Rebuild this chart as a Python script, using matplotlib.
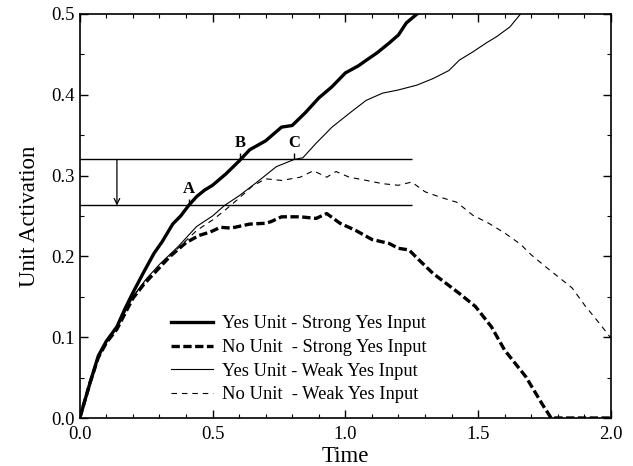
import matplotlib.pyplot as plt
from matplotlib.ticker import MultipleLocator

plt.rcParams['font.family'] = ['Liberation Serif', 'DejaVu Serif']
plt.rcParams['lines.scale_dashes'] = False

# Yes unit, strong yes input
T_YES_STRONG = [0.0, 0.04, 0.07, 0.1, 0.14, 0.17, 0.2, 0.24, 0.28, 0.31, 0.35, 0.38, 0.41, 0.44,
                0.47, 0.5, 0.55, 0.6, 0.64, 0.7, 0.76, 0.8, 0.85, 0.9, 0.95, 1.0, 1.05, 1.08,
                1.12, 1.165, 1.2, 1.23, 1.27]
A_YES_STRONG = [0.0, 0.045, 0.077, 0.095, 0.113, 0.135, 0.155, 0.18, 0.204, 0.218, 0.24, 0.25, 0.263, 0.274,
                0.282, 0.288, 0.302, 0.318, 0.332, 0.343, 0.36, 0.362, 0.378, 0.396, 0.41, 0.427, 0.436, 0.443,
                0.452, 0.464, 0.474, 0.489, 0.5]

# No unit, strong yes input
T_NO_STRONG = [0.0, 0.04, 0.07, 0.1, 0.14, 0.2, 0.24, 0.3, 0.34, 0.4, 0.45, 0.49, 0.53, 0.57,
               0.64, 0.7, 0.72, 0.76, 0.83, 0.89, 0.93, 0.98, 1.04, 1.1, 1.165, 1.2, 1.24,
               1.27, 1.33, 1.43, 1.49, 1.55, 1.6, 1.68, 1.74, 1.775, 2.0]
A_NO_STRONG = [0.0, 0.045, 0.075, 0.093, 0.11, 0.148, 0.165, 0.186, 0.2, 0.217, 0.226, 0.23, 0.236, 0.235,
               0.24, 0.241, 0.243, 0.249, 0.249, 0.247, 0.253, 0.241, 0.232, 0.221, 0.216, 0.21, 0.208,
               0.198, 0.179, 0.154, 0.138, 0.113, 0.084, 0.051, 0.018, 0.0, 0.0]

# Yes unit, weak yes input
T_YES_WEAK = [0.0, 0.04, 0.07, 0.1, 0.14, 0.2, 0.25, 0.3, 0.37, 0.44, 0.5, 0.545, 0.6, 0.664,
              0.74, 0.808, 0.84, 0.89, 0.95, 1.015, 1.078, 1.14, 1.2, 1.27, 1.33, 1.39, 1.43,
              1.48, 1.53, 1.57, 1.62, 1.66]
A_YES_WEAK = [0.0, 0.045, 0.075, 0.094, 0.112, 0.15, 0.172, 0.19, 0.212, 0.237, 0.25, 0.263, 0.275, 0.291,
              0.311, 0.32, 0.322, 0.34, 0.36, 0.377, 0.393, 0.402, 0.406, 0.412, 0.42, 0.43, 0.443,
              0.453, 0.464, 0.472, 0.484, 0.5]

# No unit, weak yes input
T_NO_WEAK = [0.0, 0.04, 0.07, 0.1, 0.14, 0.2, 0.25, 0.3, 0.37, 0.44, 0.5, 0.55, 0.6, 0.65, 0.7,
             0.76, 0.83, 0.88, 0.93, 0.965, 1.015, 1.08, 1.14, 1.2, 1.25, 1.3, 1.36, 1.42, 1.48,
             1.54, 1.6, 1.66, 1.7, 1.755, 1.816, 1.854, 1.905, 1.955, 2.0]
A_NO_WEAK = [0.0, 0.045, 0.075, 0.094, 0.112, 0.15, 0.17, 0.188, 0.21, 0.232, 0.245, 0.258, 0.272, 0.287, 0.296,
             0.294, 0.298, 0.306, 0.298, 0.305, 0.298, 0.294, 0.29, 0.288, 0.292, 0.28, 0.273, 0.267, 0.251,
             0.241, 0.229, 0.215, 0.202, 0.187, 0.171, 0.161, 0.138, 0.118, 0.099]

# threshold levels and crossing points
UPPER_LEVEL = 0.32
LOWER_LEVEL = 0.263
LEVEL_END = 1.25
ARROW_T = 0.14
MARK_NAMES = ['A', 'B', 'C']
MARK_T = [0.41, 0.605, 0.808]
MARK_LEVEL = [LOWER_LEVEL, UPPER_LEVEL, UPPER_LEVEL]

fig = plt.figure(figsize=(6.33, 4.66), dpi=100)
ax = fig.add_axes([0.126, 0.103, 0.839, 0.867])

ax.plot(T_YES_STRONG, A_YES_STRONG, color='black', lw=2.4, label='Yes Unit - Strong Yes Input')
ax.plot(T_NO_STRONG, A_NO_STRONG, color='black', lw=2.4, dashes=(6, 2.5), label='No Unit  - Strong Yes Input')
ax.plot(T_YES_WEAK, A_YES_WEAK, color='black', lw=0.8, label='Yes Unit - Weak Yes Input')
ax.plot(T_NO_WEAK, A_NO_WEAK, color='black', lw=0.8, dashes=(4, 3.5), label='No Unit  - Weak Yes Input')

ax.hlines([UPPER_LEVEL, LOWER_LEVEL], 0, LEVEL_END, color='black', lw=1)
ax.annotate('', xy=(ARROW_T, LOWER_LEVEL), xytext=(ARROW_T, UPPER_LEVEL),
            arrowprops=dict(arrowstyle='->', color='black', lw=0.9, shrinkA=0, shrinkB=0))

for name, t, lvl in zip(MARK_NAMES, MARK_T, MARK_LEVEL):
    ax.vlines(t, lvl, lvl + 0.008, color='black', lw=1)
    ax.text(t, lvl + 0.01, name, ha='center', va='bottom', fontsize=12, fontweight='bold')

ax.set_xlim(0, 2.0)
ax.set_ylim(0, 0.5)
ax.xaxis.set_major_locator(MultipleLocator(0.5))
ax.xaxis.set_minor_locator(MultipleLocator(0.1))
ax.yaxis.set_major_locator(MultipleLocator(0.1))
ax.yaxis.set_minor_locator(MultipleLocator(0.05))
ax.xaxis.set_major_formatter(lambda v, p: f'{v:.1f}')
ax.yaxis.set_major_formatter(lambda v, p: f'{v:.1f}')
ax.tick_params(which='both', direction='in', top=True, right=True, labelsize=13.5)
ax.tick_params(which='major', length=6, width=1)
ax.tick_params(which='minor', length=3, width=0.8)
ax.tick_params(axis='x', pad=6)
for s in ax.spines.values():
    s.set_linewidth(1.2)

ax.set_xlabel('Time', fontsize=16.5, labelpad=2)
ax.set_ylabel('Unit Activation', fontsize=16.5, labelpad=8)

ax.legend(loc='lower left', bbox_to_anchor=(0.14, -0.005), frameon=False, fontsize=13.3,
          handlelength=2.3, handletextpad=0.45, labelspacing=0.36)

fig.savefig('out.png', dpi=100)
